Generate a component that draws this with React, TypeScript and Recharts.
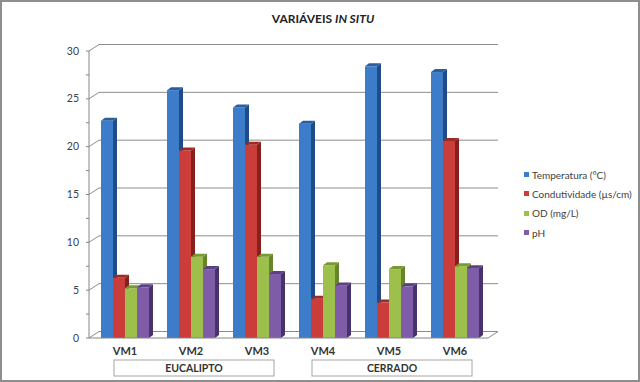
import { BarChart, Bar, XAxis, YAxis, CartesianGrid, Legend } from "recharts";

const CATEGORIES = ["VM1", "VM2", "VM3", "VM4", "VM5", "VM6"];
const TEMPERATURA = [22.7, 25.9, 24.1, 22.4, 28.4, 27.8];
const CONDUTIVIDADE = [6.3, 19.6, 20.2, 4.1, 3.7, 20.6];
const OD = [5.2, 8.5, 8.5, 7.6, 7.2, 7.5];
const PH = [5.3, 7.2, 6.7, 5.5, 5.4, 7.3];

const Y_TICKS = [0, 2.5, 5, 7.5, 10, 12.5, 15, 17.5, 20, 22.5, 25, 27.5, 30];
const Y_GRID = [0, 5, 10, 15, 20, 25, 30];

// group boxes under the category labels, centred on one category
const GROUPS = [
  { label: "EUCALIPTO", center: "VM2" },
  { label: "CERRADO", center: "VM5" },
];

const SERIES = [
  { key: "temp", name: "Temperatura (°C)", values: TEMPERATURA, front: "#3D7CC9", side: "#1F4C88", top: "#2B5E9E" },
  { key: "cond", name: "Condutividade (µs/cm)", values: CONDUTIVIDADE, front: "#CB3D3A", side: "#86201D", top: "#9E2A26" },
  { key: "od", name: "OD (mg/L)", values: OD, front: "#9CC04B", side: "#66842A", top: "#789A33" },
  { key: "ph", name: "pH", values: PH, front: "#7E5CA8", side: "#48326C", top: "#5A4184" },
];

const data = CATEGORIES.map((name, i) => {
  const row: Record<string, string | number> = { name };
  SERIES.forEach((s) => (row[s.key] = s.values[i]));
  return row;
});

const W = 640;
const H = 382;
const MARGIN = { top: 51, right: 152, bottom: 0, left: 0 };
const X_AXIS_H = 44;
const PLOT_BOTTOM = H - MARGIN.bottom - X_AXIS_H;
const FONT = "Lato, 'Open Sans', sans-serif";
const AXIS = "#868686";

// wall depth and bar depth for the fake 3D look
const DX = 10;
const DY = 6.5;
const BX = 4;
const BY = 3;

function makeBar3D(side: string, top: string) {
  return (props: any) => {
    const { x, y, width, height, fill } = props;
    if (width == null || height == null || height <= 0) return <g />;
    const r = x + width;
    const b = y + height;
    return (
      <g>
        <rect x={x} y={y} width={width} height={height} fill={fill} />
        <path d={`M${r},${y} L${r + BX},${y - BY} L${r + BX},${b - BY} L${r},${b} Z`} fill={side} />
        <path d={`M${x},${y} L${x + BX},${y - BY} L${r + BX},${y - BY} L${r},${y} Z`} fill={top} />
      </g>
    );
  };
}

function BackGridLine(props: any) {
  const { x1, y1, x2, y2 } = props;
  let d = `M${x1},${y1} L${x1 + DX},${y1 - DY} L${x2 + DX},${y2 - DY}`;
  if (Math.abs(y1 - PLOT_BOTTOM) < 1) d += ` L${x2},${y2}`;
  return <path d={d} stroke="#8C8C8C" strokeWidth={1} fill="none" />;
}

function YTick({ x, y, payload }: any) {
  if (payload.value % 5 !== 0) return <g />;
  return (
    <text x={x} y={y} dy={3.6} textAnchor="end" fontSize={10.5} fill="#404040" fontFamily={FONT}>
      {payload.value}
    </text>
  );
}

function XTick({ x, y, payload }: any) {
  const group = GROUPS.find((g) => g.center === payload.value);
  return (
    <g fontFamily={FONT} fontWeight="bold" fill="#333">
      <text x={x} y={y + 17} textAnchor="middle" fontSize={11}>
        {payload.value}
      </text>
      {group && (
        <g>
          <rect x={x + 3 - 80} y={y + 22} width={160} height={16} fill="#fff" stroke="#A6A6A6" />
          <text x={x + 3} y={y + 34} textAnchor="middle" fontSize={10.5}>
            {group.label}
          </text>
        </g>
      )}
    </g>
  );
}

function LegendBox() {
  return (
    <div style={{ fontFamily: FONT, fontSize: 10, color: "#404040" }}>
      {SERIES.map((s) => (
        <div key={s.key} style={{ height: 19.3, display: "flex", alignItems: "center", whiteSpace: "nowrap" }}>
          <span style={{ width: 5, height: 5, background: s.front, marginRight: 3, display: "inline-block" }} />
          {s.name}
        </div>
      ))}
    </div>
  );
}

export default function App() {
  return (
    <div style={{ position: "absolute", left: 0, top: 0, width: W, height: H, background: "#fff", fontFamily: FONT }}>
      <div
        style={{
          position: "absolute",
          top: 11,
          left: 0,
          width: W,
          textAlign: "center",
          fontSize: 12,
          fontWeight: "bold",
          color: "#222",
          paddingLeft: 6,
          boxSizing: "border-box",
        }}
      >
        VARIÁVEIS <i>IN SITU</i>
      </div>
      <div style={{ position: "absolute", left: 0, top: 0 }}>
        <BarChart width={W} height={H} data={data} margin={MARGIN} barGap={0} barCategoryGap={9}>
          <CartesianGrid vertical={false} horizontal={BackGridLine} horizontalValues={Y_GRID} />
          <XAxis
            dataKey="name"
            height={X_AXIS_H}
            padding={{ left: 3, right: 0 }}
            axisLine={{ stroke: AXIS }}
            tickLine={false}
            tickSize={0}
            tickMargin={0}
            tick={XTick}
            interval={0}
          />
          <YAxis
            width={89}
            domain={[0, 30]}
            ticks={Y_TICKS}
            interval={0}
            axisLine={{ stroke: AXIS }}
            tickLine={{ stroke: AXIS }}
            tickSize={3}
            tickMargin={7}
            tick={YTick}
          />
          <Legend
            layout="vertical"
            align="center"
            verticalAlign="middle"
            wrapperStyle={{ left: 524, top: 165, width: 116 }}
            content={() => <LegendBox />}
          />
          {SERIES.map((s) => (
            <Bar
              key={s.key}
              dataKey={s.key}
              name={s.name}
              fill={s.front}
              shape={makeBar3D(s.side, s.top)}
              isAnimationActive={false}
            />
          ))}
        </BarChart>
      </div>
      <div
        style={{
          position: "absolute",
          left: 0,
          top: 0,
          width: W,
          height: H,
          border: "2px solid #8E8E8E",
          boxSizing: "border-box",
          pointerEvents: "none",
        }}
      />
    </div>
  );
}
